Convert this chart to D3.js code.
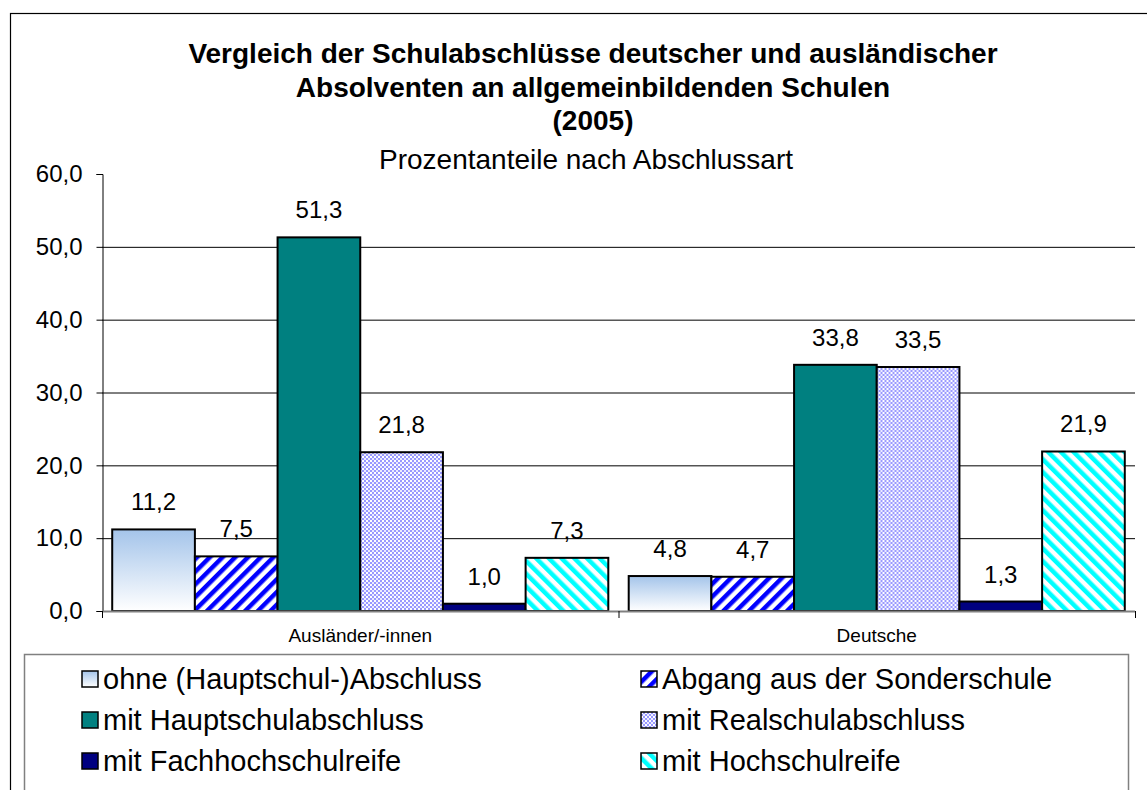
<!DOCTYPE html>
<html>
<head>
<meta charset="utf-8">
<script src="https://cdn.jsdelivr.net/npm/d3@7"></script>
<style>
  body { margin: 0; background: #fff; }
  svg { display: block; font-family: Arial, "Liberation Sans", sans-serif; }
</style>
</head>
<body>
<svg width="1147" height="790"></svg>
<script>
(function () {
    var groups = ['Ausländer/-innen', 'Deutsche'];
    var series = [
        'ohne (Hauptschul-)Abschluss',
        'Abgang aus der Sonderschule',
        'mit Hauptschulabschluss',
        'mit Realschulabschluss',
        'mit Fachhochschulreife',
        'mit Hochschulreife'
    ];
    var auslaender = [11.2, 7.5, 51.3, 21.8, 1.0, 7.3];
    var deutsche = [4.8, 4.7, 33.8, 33.5, 1.3, 21.9];
    var yTicks = [0, 10, 20, 30, 40, 50, 60];
    var titleLines = [
        'Vergleich der Schulabschlüsse deutscher und ausländischer',
        'Absolventen an allgemeinbildenden Schulen',
        '(2005)'
    ];
    var subtitle = 'Prozentanteile nach Abschlussart';

    var font = 'Arial, "Liberation Sans", sans-serif';
    var svg = d3.select('svg');
    var fills = ['url(#gradOhne)', 'url(#patSonder)', '#008080', 'url(#patReal)', '#000080', 'url(#patHoch)'];

    defs();

    // äußerer Rahmen (läuft rechts und unten aus dem Bild)
    svg.append('rect')
        .attr('x', 10.5).attr('y', 13.5)
        .attr('width', 1200).attr('height', 900)
        .attr('fill', 'none').attr('stroke', '#000').attr('stroke-width', 1.2);

    var x0 = d3.scaleBand().domain(groups).range([102, 1135]);
    var x1 = d3.scaleBand().domain(series).range([0, x0.bandwidth()]).paddingOuter(0.1235);
    var y = d3.scaleLinear().domain([0, 60]).range([611, 174]);

    // Gitterlinien
    svg.append('g').selectAll('line')
        .data(yTicks.filter(function (d) { return d > 0 && d < 60; }))
        .enter().append('line')
        .attr('x1', 102).attr('x2', 1135)
        .attr('y1', function (d) { return y(d) + 0.5; })
        .attr('y2', function (d) { return y(d) + 0.5; })
        .attr('stroke', '#000').attr('stroke-width', 1);

    // y-Achse
    var yAxis = svg.append('g')
        .attr('transform', 'translate(102.5,0)')
        .call(d3.axisLeft(y).tickValues(yTicks).tickSize(6).tickPadding(14)
            .tickFormat(function (d) { return d3.format('.1f')(d).replace('.', ','); }));
    yAxis.select('.domain').attr('stroke', '#000');
    yAxis.selectAll('.tick line').attr('stroke', '#000');
    yAxis.selectAll('text').attr('font-size', 24).attr('fill', '#000').attr('font-family', font);

    // Balken
    var data = [auslaender, deutsche];
    var grp = svg.append('g').selectAll('g')
        .data(groups)
        .enter().append('g')
        .attr('transform', function (d) { return 'translate(' + x0(d) + ',0)'; });

    grp.selectAll('rect')
        .data(function (d, i) {
            return data[i].map(function (v, j) { return { key: series[j], value: v, idx: j }; });
        })
        .enter().append('rect')
        .attr('x', function (d) { return x1(d.key); })
        .attr('y', function (d) { return y(d.value); })
        .attr('width', x1.bandwidth())
        .attr('height', function (d) { return y(0) - y(d.value); })
        .attr('fill', function (d) { return fills[d.idx]; })
        .attr('stroke', '#000').attr('stroke-width', 2);

    grp.selectAll('text')
        .data(function (d, i) {
            return data[i].map(function (v, j) { return { key: series[j], value: v }; });
        })
        .enter().append('text')
        .attr('x', function (d) { return x1(d.key) + x1.bandwidth() / 2; })
        .attr('y', function (d) { return y(d.value) - 19; })
        .attr('text-anchor', 'middle')
        .attr('font-size', 24)
        .text(function (d) { return d3.format('.1f')(d.value).replace('.', ','); });

    // x-Achse
    var xAxis = svg.append('g')
        .attr('transform', 'translate(0,611.5)')
        .call(d3.axisBottom(x0).tickSize(0).tickPadding(17));
    xAxis.select('.domain').attr('stroke', '#808080').attr('stroke-width', 2).attr('d', 'M102,0H1135');
    xAxis.selectAll('text').attr('font-size', 19).attr('fill', '#000').attr('font-family', font);
    svg.append('g').selectAll('line')
        .data([x0.range()[0], x0('Deutsche'), x0.range()[1]])
        .enter().append('line')
        .attr('x1', function (d) { return d + 0.5; }).attr('x2', function (d) { return d + 0.5; })
        .attr('y1', 611).attr('y2', 618)
        .attr('stroke', '#000');

    // Titel
    svg.append('g').selectAll('text')
        .data(titleLines)
        .enter().append('text')
        .attr('x', 593)
        .attr('y', function (d, i) { return 63 + i * 33.5; })
        .attr('text-anchor', 'middle')
        .attr('font-size', 28).attr('font-weight', 'bold')
        .text(function (d) { return d; });
    svg.append('text')
        .attr('x', 586).attr('y', 169)
        .attr('text-anchor', 'middle')
        .attr('font-size', 28)
        .text(subtitle);

    // Legende
    svg.append('rect')
        .attr('x', 24.5).attr('y', 654.5)
        .attr('width', 1104).attr('height', 200)
        .attr('fill', '#fff').attr('stroke', '#808080').attr('stroke-width', 1.5);

    var legend = svg.append('g').selectAll('g')
        .data(series)
        .enter().append('g')
        .attr('transform', function (d, i) {
            return 'translate(' + (i % 2 === 0 ? 82 : 641) + ',' + (679 + Math.floor(i / 2) * 41) + ')';
        });
    legend.append('rect')
        .attr('x', 0).attr('y', -8)
        .attr('width', 16).attr('height', 16)
        .attr('fill', function (d, i) { return fills[i]; })
        .attr('stroke', '#000').attr('stroke-width', 1.5);
    legend.append('text')
        .attr('x', 21).attr('y', 10)
        .attr('font-size', 29)
        .text(function (d) { return d; });

    function defs() {
        var d = svg.append('defs');
        var g = d.append('linearGradient').attr('id', 'gradOhne')
            .attr('x1', 0).attr('y1', 0).attr('x2', 0).attr('y2', 1);
        g.append('stop').attr('offset', '0%').attr('stop-color', '#a4c4ea');
        g.append('stop').attr('offset', '100%').attr('stop-color', '#ffffff');

        var p1 = d.append('pattern').attr('id', 'patSonder')
            .attr('patternUnits', 'userSpaceOnUse').attr('width', 9).attr('height', 9)
            .attr('patternTransform', 'rotate(45)');
        p1.append('rect').attr('width', 9).attr('height', 9).attr('fill', '#fff');
        p1.append('rect').attr('width', 4.5).attr('height', 9).attr('fill', '#0000ff');

        var p2 = d.append('pattern').attr('id', 'patReal')
            .attr('patternUnits', 'userSpaceOnUse').attr('width', 4).attr('height', 4);
        p2.append('rect').attr('width', 4).attr('height', 4).attr('fill', '#9999ff');
        p2.append('rect').attr('width', 2).attr('height', 2).attr('fill', '#fff');
        p2.append('rect').attr('x', 2).attr('y', 2).attr('width', 2).attr('height', 2).attr('fill', '#ececff');

        var p3 = d.append('pattern').attr('id', 'patHoch')
            .attr('patternUnits', 'userSpaceOnUse').attr('width', 9).attr('height', 9)
            .attr('patternTransform', 'rotate(-45)');
        p3.append('rect').attr('width', 9).attr('height', 9).attr('fill', '#fff');
        p3.append('rect').attr('width', 4.5).attr('height', 9).attr('fill', '#00ffff');
    }
}());
</script>
</body>
</html>
